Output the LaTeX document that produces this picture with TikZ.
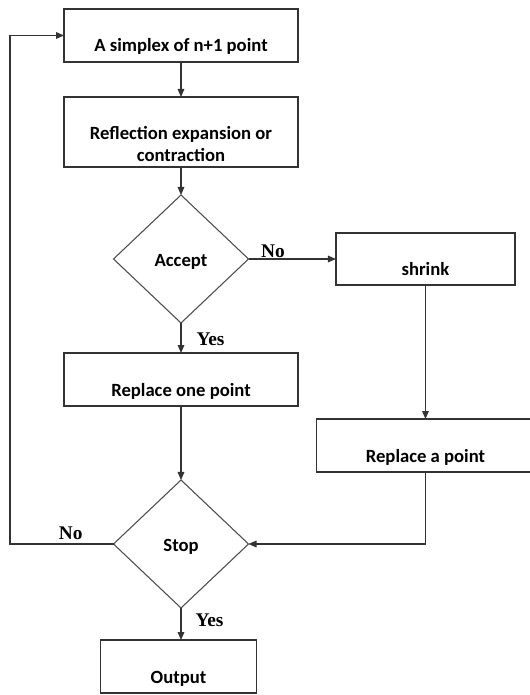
\documentclass[tikz,border=0pt]{standalone}
\usepackage{fontspec}
\setmainfont{Carlito}
\newfontfamily\answerfont{Liberation Serif}
\usetikzlibrary{arrows.meta,positioning,shapes.geometric}

\begin{document}
\begin{tikzpicture}[
  x=0.75pt, y=-0.75pt,
  >={Triangle[length=6pt,width=5pt]},
  font=\fontsize{14}{16.5}\selectfont\bfseries,
  process/.style={draw=black!80, line width=0.8pt, outer sep=0pt, align=center, minimum width=175.5pt, minimum height=39.75pt, inner ysep=0pt, text height=24.75pt, text depth=0pt},
  decision/.style={diamond, draw=black!70, line width=0.8pt, outer sep=0pt, minimum width=101.25pt, minimum height=96pt, inner sep=0pt, text height=11.4pt, text depth=0pt},
  line/.style={->, draw=black!80, line width=0.8pt},
  answer/.style={font=\answerfont\fontsize{14.5}{16}\selectfont\bfseries, inner sep=0pt}
]
  \useasboundingbox (0,0) rectangle (530,695);

  \node[process] (simplex) at (181,35.5) {A simplex of n+1 point};
  \node[process, below=26.25pt of simplex, minimum height=52.5pt, text height=45pt] (reflect) {Reflection expansion or\\contraction};
  \node[decision, below=21pt of reflect] (accept) {Accept};
  \node[process, below=22.5pt of accept] (replone) {Replace one point};
  \node[decision, below=55.5pt of replone] (stop) {Stop};
  \node[process, below=24pt of stop, minimum width=117pt, xshift=-1.9pt] (output) {Output};

  \node[process, right=65.6pt of accept, minimum width=134.25pt, minimum height=39pt] (shrink) {shrink};
  \node[process, below=100.5pt of shrink, minimum width=163.5pt] (replpt) {Replace a point};

  \draw[line] (simplex) -- (reflect);
  \draw[line] (reflect) -- (accept);
  \draw[line] (accept) -- node[answer, anchor=base, pos=0.28, yshift=1pt] {No} (shrink);
  \draw[line] (accept) -- node[answer, anchor=base west, pos=0.76, xshift=11.25pt] {Yes} (replone);
  \draw[line] (shrink) -- (replpt);
  \draw[line] (replone) -- (stop);
  \draw[line] (replpt.south) |- (stop.east);
  \draw[line] (stop) -- node[answer, anchor=base west, pos=0.575, xshift=10.5pt] {Yes} (stop |- output.north);
  \draw[line] (stop.west) -| node[answer, anchor=base, pos=0.207, yshift=3.75pt] {No} ([xshift=-40.5pt]simplex.west) -- (simplex.west);
\end{tikzpicture}
\end{document}
